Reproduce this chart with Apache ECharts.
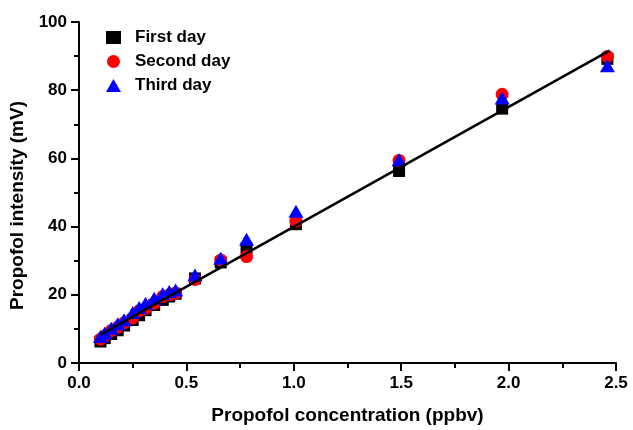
<!DOCTYPE html>
<html>
<head>
<meta charset="utf-8">
<script src="https://cdn.jsdelivr.net/npm/echarts@6/dist/echarts.min.js"></script>
<style>
html,body{margin:0;padding:0;background:#fff;}
#chart{width:633px;height:430px;}
</style>
</head>
<body>
<div id="chart"></div>
<script>
// Propofol concentration (ppbv)
const concentration = [0.10, 0.12, 0.15, 0.18, 0.21, 0.25, 0.28, 0.31, 0.35, 0.39, 0.42, 0.45, 0.54, 0.66, 0.78, 1.01, 1.49, 1.97, 2.46];
// Propofol intensity (mV)
const firstDay  = [6.3, 7.3, 8.5, 9.6, 11.0, 12.6, 14.0, 15.5, 17.0, 18.5, 19.5, 20.3, 24.8, 29.5, 33.6, 40.7, 56.3, 74.6, 89.2];
const secondDay = [7.0, 8.0, 9.5, 10.5, 11.8, 13.2, 15.3, 16.0, 17.5, 19.5, 20.0, 20.5, 24.5, 30.2, 31.2, 41.6, 59.4, 78.8, 89.9];
const thirdDay  = [7.8, 8.8, 10.2, 11.5, 12.7, 14.8, 16.3, 17.5, 19.0, 20.3, 21.0, 21.4, 25.8, 30.7, 36.3, 44.5, 59.6, 77.7, 87.2];
// Linear fit line endpoints
const fitX = [0.10, 2.47];
const fitY = [8.3, 91.6];

const seriesNames = ['First day', 'Second day', 'Third day'];
const xTicks = ['0.0', '0.5', '1.0', '1.5', '2.0', '2.5'];

const font = '"Liberation Sans", Arial, sans-serif';
const pair = (xs, ys) => xs.map((x, i) => [x, ys[i]]);

const chart = echarts.init(document.getElementById('chart'), null, {renderer: 'canvas'});
chart.setOption({
  animation: false,
  backgroundColor: '#fff',
  grid: {left: 79, right: 17, top: 22, bottom: 65, containLabel: false},
  legend: {
    data: seriesNames,
    orient: 'vertical',
    left: 101,
    top: 24,
    itemWidth: 15,
    itemHeight: 13,
    itemGap: 7,
    textStyle: {fontFamily: font, fontWeight: 'bold', fontSize: 17, color: '#000', padding: [0, 0, 0, 9]}
  },
  xAxis: {
    type: 'value',
    min: 0, max: 2.5, interval: 0.5,
    name: 'Propofol concentration (ppbv)',
    nameLocation: 'middle',
    nameGap: 43,
    nameTextStyle: {fontFamily: font, fontWeight: 'bold', fontSize: 19, color: '#000'},
    axisLine: {show: true, onZero: false, lineStyle: {color: '#000', width: 2}},
    axisTick: {show: true, inside: false, length: 8, lineStyle: {color: '#000', width: 2}},
    minorTick: {show: true, splitNumber: 2, length: 5, lineStyle: {color: '#000', width: 2}},
    splitLine: {show: false},
    axisLabel: {
      margin: 12, color: '#000', fontFamily: font, fontWeight: 'bold', fontSize: 17,
      formatter: v => xTicks[Math.round(v / 0.5)] || v.toFixed(1)
    }
  },
  yAxis: {
    type: 'value',
    min: 0, max: 100, interval: 20,
    name: 'Propofol intensity (mV)',
    nameLocation: 'middle',
    nameGap: 52,
    nameTextStyle: {fontFamily: font, fontWeight: 'bold', fontSize: 19, color: '#000', padding: [0, 26, 0, 0]},
    axisLine: {show: true, onZero: false, lineStyle: {color: '#000', width: 2}},
    axisTick: {show: true, inside: false, length: 8, lineStyle: {color: '#000', width: 2}},
    minorTick: {show: true, splitNumber: 2, length: 5, lineStyle: {color: '#000', width: 2}},
    splitLine: {show: false},
    axisLabel: {margin: 12, color: '#000', fontFamily: font, fontWeight: 'bold', fontSize: 17}
  },
  series: [
    {
      name: seriesNames[0], type: 'scatter', symbol: 'rect', symbolSize: 12,
      itemStyle: {color: '#000000', opacity: 1}, data: pair(concentration, firstDay), z: 2
    },
    {
      name: seriesNames[1], type: 'scatter', symbol: 'circle', symbolSize: 13,
      itemStyle: {color: '#ff0000', opacity: 1}, data: pair(concentration, secondDay), z: 3
    },
    {
      name: seriesNames[2], type: 'scatter', symbol: 'triangle', symbolSize: [15, 13],
      itemStyle: {color: '#0000ff', opacity: 1}, data: pair(concentration, thirdDay), z: 4
    },
    {
      name: 'Fit', type: 'line', data: pair(fitX, fitY), showSymbol: false, symbol: 'none',
      lineStyle: {color: '#000', width: 2.5}, z: 5, silent: true
    }
  ]
});
</script>
</body>
</html>
